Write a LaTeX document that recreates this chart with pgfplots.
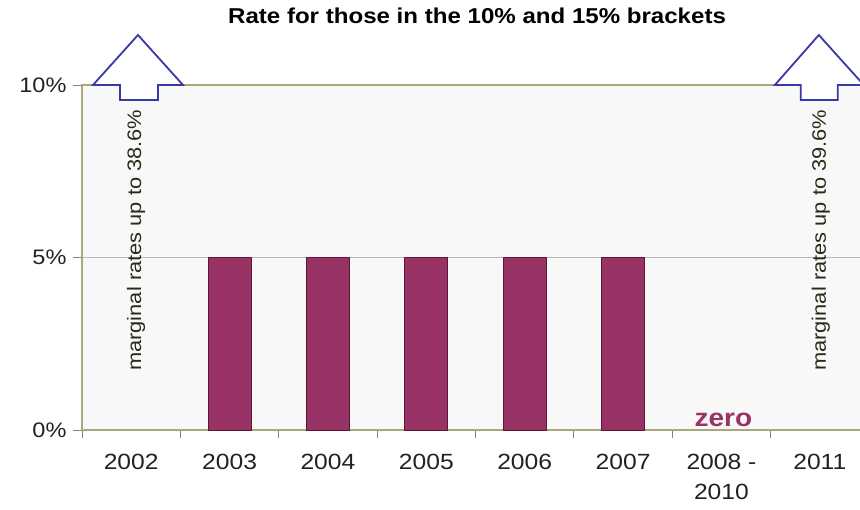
\documentclass[border=0pt]{standalone}
\usepackage{fontspec}
\setmainfont{Liberation Sans}[FakeStretch=1.12]
\usepackage{pgfplots}
\pgfplotsset{compat=1.18}
\definecolor{plum}{HTML}{993366}
\definecolor{plumdark}{HTML}{5A1833}
\definecolor{axisolive}{HTML}{A8A878}
\definecolor{plotbg}{HTML}{F8F8F8}
\definecolor{arrowblue}{HTML}{3838A8}
\definecolor{textgray}{HTML}{222222}
\definecolor{notecol}{HTML}{2A2A18}
\begin{document}
\begin{tikzpicture}
\useasboundingbox (-82bp,-80bp) rectangle (778bp,430bp);
\begin{axis}[
  at={(0,0)}, anchor=south west,
  width=787bp, height=345bp, scale only axis,
  xmin=-0.5, xmax=7.5, ymin=0, ymax=10,
  axis background/.style={fill=plotbg},
  axis line style={axisolive, line width=1.2bp},
  xtick pos=lower, ytick pos=left,
  xtick={0,...,7},
  xticklabels={2002,2003,2004,2005,2006,2007,{2008 -\\2010},2011},
  xticklabel style={align=center, font=\fontsize{22bp}{30bp}\selectfont, text=textgray, yshift=-12bp},
  major x tick style={draw=none},
  minor xtick={-0.5,0.5,...,6.5},
  minor tick style={gray, line width=0.8bp},
  minor tick length=8bp,
  tick align=outside,
  ytick={0,5,10}, yticklabels={0\%,5\%,10\%},
  yticklabel style={font=\fontsize{21bp}{25bp}\selectfont, text=textgray, xshift=-3bp},
  major y tick style={gray, line width=0.8bp},
  major tick length=9bp,
  ymajorgrids, grid style={gray!55, line width=0.8bp},
  clip=false,
  title={Rate for those in the 10\% and 15\% brackets},
  title style={at={(axis description cs:0.502,1.183)}, anchor=center, font=\fontsize{21.5bp}{25bp}\selectfont\bfseries, text=black},
]
\addplot[ybar, bar width=0.437, fill=plum, draw=plumdark, line width=1bp] coordinates {(1,5) (2,5) (3,5) (4,5) (5,5)};
\draw[arrowblue, line width=1.8bp, fill=white, line join=miter]
  (axis cs:0.0691,11.449) -- (axis cs:0.5264,10) -- (axis cs:0.2724,10) -- (axis cs:0.2724,9.565)
  -- (axis cs:-0.1138,9.565) -- (axis cs:-0.1138,10) -- (axis cs:-0.3882,10) -- cycle;
\draw[arrowblue, line width=1.8bp, fill=white, line join=miter]
  (axis cs:6.990,11.449) -- (axis cs:7.447,10) -- (axis cs:7.183,10) -- (axis cs:7.183,9.565)
  -- (axis cs:6.807,9.565) -- (axis cs:6.807,10) -- (axis cs:6.543,10) -- cycle;
\node[rotate=90, font=\fontsize{19.5bp}{23bp}\selectfont, text=notecol] at (axis cs:0.05,5.5) {marginal rates up to 38.6\%};
\node[rotate=90, font=\fontsize{19.5bp}{23bp}\selectfont, text=notecol] at (axis cs:7.01,5.5) {marginal rates up to 39.6\%};
\node[font=\fontsize{25bp}{28bp}\selectfont\bfseries, text=plum] at (axis cs:6.02,0.29) {zero};
\end{axis}
\end{tikzpicture}
\end{document}
